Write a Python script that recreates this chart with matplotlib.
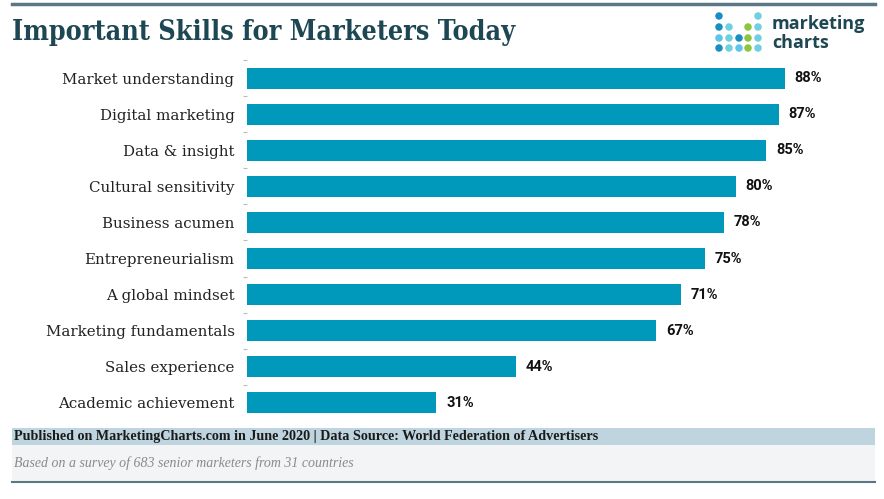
import matplotlib.pyplot as plt
from matplotlib.patches import Rectangle, Ellipse
from matplotlib.lines import Line2D

skills = ['Market understanding', 'Digital marketing', 'Data & insight',
          'Cultural sensitivity', 'Business acumen', 'Entrepreneurialism',
          'A global mindset', 'Marketing fundamentals', 'Sales experience',
          'Academic achievement']
shares = [88, 87, 85, 80, 78, 75, 71, 67, 44, 31]

title = 'Important Skills for Marketers Today'
source = 'Published on MarketingCharts.com in June 2020 | Data Source: World Federation of Advertisers'
note = 'Based on a survey of 683 senior marketers from 31 countries'

W, H = 884, 499
fig = plt.figure(figsize=(W / 100, H / 100), dpi=100)

def fx(px):
    return px / W

def fy(py):
    return 1 - py / H

# top rule
fig.add_artist(Line2D([fx(12), fx(875)], [fy(4), fy(4)], color='#5b7684', lw=2.5))

# title
fig.text(fx(12), fy(33), title, fontsize=19.3, fontweight='bold', family='DejaVu Serif',
         fontstretch='condensed', color='#1d4752', va='center', ha='left')

# logo dots
dot_cols = [719, 729, 739, 748, 758]
dot_rows = [16, 27, 38, 48]
dot_grid = [
    ['#1a8fbf', None, None, None, '#6fd0e0'],
    ['#1a8fbf', '#6fd0e0', None, '#8cc63f', '#6fd0e0'],
    ['#5ec4e8', '#6fd0e0', '#1a8fbf', '#8cc63f', '#6fd0e0'],
    ['#1a8fbf', '#6fd0e0', '#5ec4e8', '#8cc63f', '#6fd0e0'],
]
for r, row in enumerate(dot_grid):
    for c, col in enumerate(row):
        if col:
            fig.add_artist(Ellipse((fx(dot_cols[c]), fy(dot_rows[r])), 7.5 / W, 7.5 / H,
                                   color=col, transform=fig.transFigure, lw=0))
fig.text(fx(772), fy(24), 'marketing', fontsize=13, fontweight='bold', color='#1d4752',
         va='center', ha='left', family='Open Sans')
fig.text(fx(772), fy(43), 'charts', fontsize=13, fontweight='bold', color='#1d4752',
         va='center', ha='left', family='Open Sans')

# bars
ax = fig.add_axes([fx(247), fy(421), fx(858) - fx(247), (421 - 60) / H])
ypos = list(range(len(skills)))
ax.barh(ypos, shares, height=0.58, color='#0098bb')
ax.set_xlim(0, 100)
ax.set_ylim(len(skills) - 0.5, -0.5)
for y, v in zip(ypos, shares):
    ax.text(v + 1.6, y, f'{v}%', va='center', ha='left', fontsize=10.5,
            fontweight='bold', color='#111111', family='Roboto')
ax.set_yticks(ypos)
ax.set_yticklabels(skills, family='DejaVu Serif', fontsize=10.8, color='#222222')
ax.set_yticks([y + 0.5 for y in ypos[:-1]] + [-0.5], minor=True)
ax.tick_params(axis='y', which='major', length=0, pad=9)
ax.tick_params(axis='y', which='minor', length=3, color='#bbbbbb', width=0.8)
ax.set_xticks([])
for s in ['top', 'right', 'bottom', 'left']:
    ax.spines[s].set_visible(False)

# footer bands
fig.add_artist(Rectangle((fx(12), fy(445)), fx(875) - fx(12), (445 - 428) / H,
                         transform=fig.transFigure, color='#bed4df', lw=0))
fig.add_artist(Rectangle((fx(12), fy(482)), fx(875) - fx(12), (482 - 445) / H,
                         transform=fig.transFigure, color='#f3f4f5', lw=0))
fig.add_artist(Line2D([fx(12), fx(875)], [fy(482), fy(482)], color='#5b7684', lw=1.5))
fig.text(fx(14), fy(436.5), source, fontsize=10.2, fontweight='bold', family='Liberation Serif',
         color='#1a1a1a', va='center', ha='left')
fig.text(fx(14), fy(463), note, fontsize=10, style='italic', family='Liberation Serif',
         color='#8a8a8a', va='center', ha='left')

fig.savefig('out.png', dpi=100)
